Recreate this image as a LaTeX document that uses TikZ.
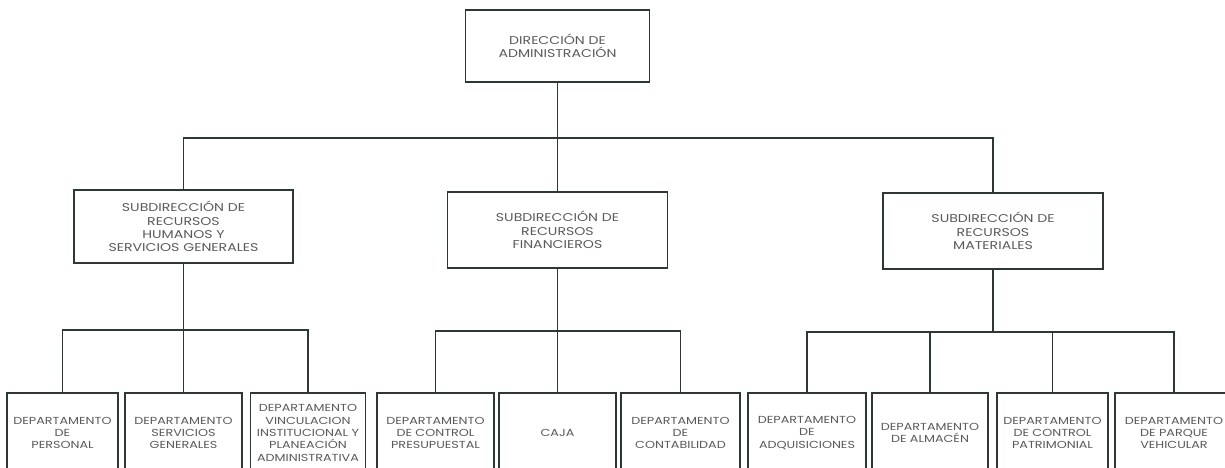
\documentclass[tikz,border=0pt]{standalone}
\usepackage{fontspec}
\setmainfont{Poppins}[FakeStretch=1.25]
\usetikzlibrary{calc}
\definecolor{linecol}{HTML}{2E3833}
\definecolor{textcol}{HTML}{5A5A5A}
\begin{document}
\begin{tikzpicture}[x=1pt,y=-1pt,
  unit/.style={draw=linecol, line width=1.3pt, rectangle, inner sep=0pt,
    align=center, text=textcol, font=\fontsize{11.3}{13.3}\selectfont},
  dept/.style={unit, minimum width=117pt, minimum height=80pt,
    font=\fontsize{10.2}{12.3}\selectfont},
  link/.style={draw=linecol, line width=1.2pt}]
\useasboundingbox (0,0) rectangle (1225,468);
\clip (0,0) rectangle (1225,468);

% head office
\node[unit, minimum width=184pt, minimum height=72pt] (top) at (557.5,46)
  {DIRECCIÓN DE\\ADMINISTRACIÓN};

% sub-directorates
\node[unit, minimum width=219pt, minimum height=73pt] (sub1) at (183.5,226.5)
  {SUBDIRECCIÓN DE\\RECURSOS\\HUMANOS Y\\SERVICIOS GENERALES};
\node[unit, minimum width=220pt, minimum height=76pt] (sub2) at (557.5,230)
  {SUBDIRECCIÓN DE\\RECURSOS\\FINANCIEROS};
\node[unit, minimum width=220pt, minimum height=76pt] (sub3) at (993,231)
  {SUBDIRECCIÓN DE\\RECURSOS\\MATERIALES};

% departments
\node[dept, minimum width=111pt] (d1) at (62.5,433) {DEPARTAMENTO\\DE\\PERSONAL};
\node[dept] (d2) at (183.5,433) {DEPARTAMENTO\\SERVICIOS\\GENERALES};
\node[dept, minimum width=115pt] (d3) at (308,433)
  {DEPARTAMENTO\\VINCULACION\\INSTITUCIONAL Y\\PLANEACIÓN\\ADMINISTRATIVA};
\node[dept] (d4) at (435.5,433) {DEPARTAMENTO\\DE CONTROL\\PRESUPUESTAL};
\node[dept] (d5) at (557.5,433) {CAJA};
\node[dept, minimum width=119pt] (d6) at (680.5,433) {DEPARTAMENTO\\DE\\CONTABILIDAD};
\node[dept, minimum width=118pt] (d7) at (807,433) {DEPARTAMENTO\\DE\\ADQUISICIONES};
\node[dept, minimum width=116pt] (d8) at (930,433) {DEPARTAMENTO\\DE ALMACÉN};
\node[dept, minimum width=111pt] (d9) at (1052.5,433) {DEPARTAMENTO\\DE CONTROL\\PATRIMONIAL};
\node[dept, minimum width=118pt] (d10) at (1174,433) {DEPARTAMENTO\\DE PARQUE\\VEHICULAR};

% bus levels
\coordinate (b0) at (557.5,138);
\coordinate (b1) at (183.5,330);
\coordinate (b2) at (557.5,331);
\coordinate (b3) at (993,332);

% head office to sub-directorates
\draw[link] (top.south) -- (b0) -- (sub2.north);
\draw[link] (sub1.north) |- (sub3.north |- b0) -- (sub3.north);

% human resources branch
\draw[link] (sub1.south) -- (d2.north);
\draw[link] (d1.north) |- (d3.north |- b1) -- (d3.north);

% finance branch
\draw[link] (sub2.south) -- (d5.north);
\draw[link] (d4.north) |- (d6.north |- b2) -- (d6.north);

% materials branch
\draw[link] (sub3.south) -- (b3);
\draw[link] (d7.north) |- (d10.north |- b3) -- (d10.north);
\draw[link] (d8.north) -- (d8.north |- b3);
\draw[link] (d9.north) -- (d9.north |- b3);
\end{tikzpicture}
\end{document}
